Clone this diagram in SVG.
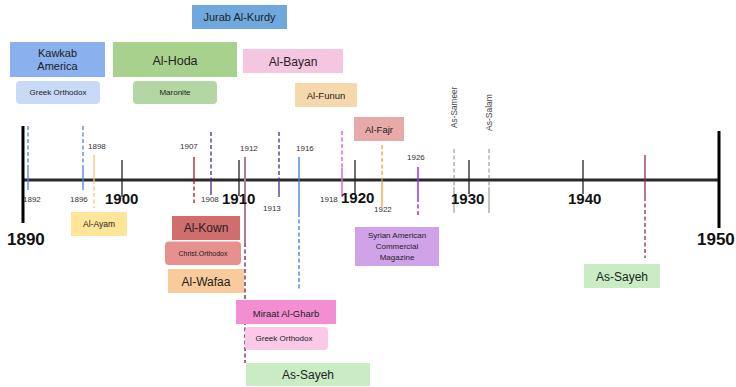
<svg xmlns="http://www.w3.org/2000/svg" width="736" height="387" viewBox="0 0 736 387">
<style>
text{font-family:"Liberation Sans",Arial,sans-serif;fill:#222;}
.c{text-anchor:middle;}
.yr{font-size:8px;fill:#333;}
.dec{font-size:15px;font-weight:bold;fill:#111;}
.end{font-size:17px;font-weight:bold;fill:#111;}
.tick{stroke:#222;stroke-width:1.3;}
.d{stroke-dasharray:4,2.5;}
</style>
<rect width="736" height="387" fill="#fff"/>
<g id="connectors" fill="none">
  <!-- axis -->
  <line x1="23" y1="180" x2="719" y2="180" stroke="#2a2a2a" stroke-width="3"/>
  <line x1="23" y1="126" x2="23" y2="223" stroke="#000" stroke-width="3"/>
  <line x1="719" y1="131" x2="719" y2="228" stroke="#000" stroke-width="3"/>
  <line class="tick" x1="122" y1="160" x2="122" y2="197"/>
  <line class="tick" x1="239" y1="160" x2="239" y2="196"/>
  <line class="tick" x1="355" y1="160" x2="355" y2="195"/>
  <line class="tick" x1="469" y1="160" x2="469" y2="194"/>
  <line class="tick" x1="583" y1="160" x2="583" y2="194"/>
  <!-- 1892 -->
  <line class="d" x1="28" y1="126" x2="28" y2="168" stroke="#4a86e8" stroke-width="1.3"/>
  <line x1="28" y1="168" x2="28" y2="190" stroke="#4a86e8" stroke-width="1.3"/>
  <!-- 1896 -->
  <line class="d" x1="83" y1="126" x2="83" y2="168" stroke="#4a86e8" stroke-width="1.3"/>
  <line x1="83" y1="168" x2="83" y2="190" stroke="#4a86e8" stroke-width="1.3"/>
  <!-- 1898 -->
  <line x1="94" y1="155" x2="94" y2="180" stroke="#f6c86b" stroke-width="1.3"/>
  <line class="d" x1="94" y1="180" x2="94" y2="208" stroke="#f6c86b" stroke-width="1.3"/>
  <!-- 1907 -->
  <line x1="194" y1="157" x2="194" y2="180" stroke="#a61c1c" stroke-width="1.3"/>
  <line class="d" x1="194" y1="180" x2="194" y2="203" stroke="#a61c1c" stroke-width="1.3"/>
  <!-- 1908 -->
  <line class="d" x1="211" y1="132" x2="211" y2="180" stroke="#4b2c8c" stroke-width="1.3"/>
  <line x1="211" y1="180" x2="211" y2="195" stroke="#4b2c8c" stroke-width="1.3"/>
  <!-- 1912 -->
  <line x1="245" y1="157" x2="245" y2="243" stroke="#b07b9a" stroke-width="2"/>
  <line class="d" x1="245" y1="243" x2="245" y2="363" stroke="#741b47" stroke-width="1.3"/>
  <!-- 1913 -->
  <line class="d" x1="279" y1="132" x2="279" y2="180" stroke="#4b2c8c" stroke-width="1.3"/>
  <line x1="279" y1="180" x2="279" y2="197" stroke="#4b2c8c" stroke-width="1.3"/>
  <!-- 1916 -->
  <line x1="299" y1="157" x2="299" y2="213" stroke="#3c78d8" stroke-width="1.3"/>
  <line class="d" x1="299" y1="213" x2="299" y2="290" stroke="#3c78d8" stroke-width="1.3"/>
  <!-- 1918 -->
  <line class="d" x1="342" y1="131" x2="342" y2="168" stroke="#e066e0" stroke-width="1.5"/>
  <line x1="342" y1="168" x2="342" y2="197" stroke="#e066e0" stroke-width="1.5"/>
  <!-- 1922 -->
  <line class="d" x1="382" y1="145" x2="382" y2="182" stroke="#f4a030" stroke-width="1.3"/>
  <line x1="382" y1="182" x2="382" y2="207" stroke="#f4a030" stroke-width="1.3"/>
  <!-- 1926 -->
  <line x1="418" y1="167" x2="418" y2="198" stroke="#9b30ee" stroke-width="1.5"/>
  <line class="d" x1="418" y1="198" x2="418" y2="216" stroke="#9b30ee" stroke-width="1.5"/>
  <!-- As-Sameer / As-Salam -->
  <line class="d" x1="454" y1="149" x2="454" y2="187" stroke="#888" stroke-width="1"/>
  <line x1="454" y1="187" x2="454" y2="213" stroke="#888" stroke-width="1"/>
  <line class="d" x1="489" y1="149" x2="489" y2="187" stroke="#888" stroke-width="1"/>
  <line x1="489" y1="187" x2="489" y2="213" stroke="#888" stroke-width="1"/>
  <!-- As-Sayeh later -->
  <line x1="645" y1="155" x2="645" y2="197" stroke="#8a2c5c" stroke-width="1.3"/>
  <line class="d" x1="645" y1="197" x2="645" y2="258" stroke="#8a2c5c" stroke-width="1.3"/>
</g>
<g id="axis-labels">
  <text class="end" x="7" y="245">1890</text>
  <text class="end" x="697" y="245">1950</text>
  <text class="dec" x="105" y="204">1900</text>
  <text class="dec" x="222" y="204">1910</text>
  <text class="dec" x="341" y="203">1920</text>
  <text class="dec" x="451" y="204">1930</text>
  <text class="dec" x="568" y="204">1940</text>
  <text class="yr" x="23" y="202">1892</text>
  <text class="yr" x="70" y="202">1896</text>
  <text class="yr" x="88" y="149">1898</text>
  <text class="yr" x="180" y="149">1907</text>
  <text class="yr" x="201" y="202">1908</text>
  <text class="yr" x="240" y="151">1912</text>
  <text class="yr" x="263" y="211">1913</text>
  <text class="yr" x="296" y="151">1916</text>
  <text class="yr" x="320" y="202">1918</text>
  <text class="yr" x="374" y="212">1922</text>
  <text class="yr" x="407" y="160">1926</text>
  <text style="font-size:8.3px;fill:#444" transform="translate(457,128) rotate(-90)">As-Sameer</text>
  <text style="font-size:8.5px;fill:#444" transform="translate(492,131) rotate(-90)">As-Salam</text>
</g>
<g id="jurab"><rect x="192" y="5" width="95" height="24" fill="#6fa8dc"/><text class="c" x="239.5" y="21" font-size="11">Jurab Al-Kurdy</text></g>
<g id="kawkab"><rect x="10" y="42" width="95" height="35" fill="#8ab0ee"/><text class="c" x="57.5" y="57" font-size="11">Kawkab</text><text class="c" x="57.5" y="70" font-size="11">America</text></g>
<g id="kawkab-rel"><rect x="16" y="81" width="84" height="23" rx="4" fill="#c9daf8"/><text class="c" x="58" y="95" font-size="8">Greek Orthodox</text></g>
<g id="hoda"><rect x="113" y="42" width="124" height="35" fill="#a9d18e"/><text class="c" x="175" y="65" font-size="12.5">Al-Hoda</text></g>
<g id="hoda-rel"><rect x="133" y="81" width="84" height="23" rx="4" fill="#b3d7a3"/><text class="c" x="175" y="95" font-size="8">Maronite</text></g>
<g id="bayan"><rect x="243" y="49" width="100" height="24" fill="#f5c6df"/><text class="c" x="293" y="66" font-size="12">Al-Bayan</text></g>
<g id="funun"><rect x="295" y="83" width="62" height="24" fill="#f6d8ad"/><text class="c" x="326" y="99" font-size="9.5">Al-Funun</text></g>
<g id="fajr"><rect x="354" y="117" width="50" height="24" fill="#e8a9a9"/><text class="c" x="379" y="133" font-size="9.5">Al-Fajr</text></g>
<g id="ayam"><rect x="71" y="212" width="56" height="24" fill="#ffe599"/><text class="c" x="99" y="227" font-size="8.5">Al-Ayam</text></g>
<g id="kown"><rect x="172" y="216" width="68" height="24" fill="#d06d6d"/><text class="c" x="206" y="232" font-size="12">Al-Kown</text></g>
<g id="kown-rel"><rect x="165" y="241.5" width="76" height="23.5" rx="4" fill="#e79090"/><text class="c" x="203" y="255.5" font-size="7">Christ.Orthodox</text></g>
<g id="wafaa"><rect x="168" y="269" width="76" height="24" fill="#f9cb9c"/><text class="c" x="206" y="286" font-size="12">Al-Wafaa</text></g>
<g id="miraat"><rect x="236" y="300" width="100" height="24" fill="#f48ed2"/><text class="c" x="286" y="317" font-size="9.5">Miraat Al-Gharb</text></g>
<g id="miraat-rel"><rect x="245" y="327" width="83" height="23" rx="4" fill="#fbc8e8"/><text class="c" x="284" y="341" font-size="8">Greek Orthodox</text></g>
<g id="sayeh1"><rect x="246" y="363" width="124" height="23" fill="#c9ecc5"/><text class="c" x="308" y="379" font-size="12">As-Sayeh</text></g>
<g id="syrian"><rect x="355" y="227" width="84" height="39" fill="#d0a3e8"/><text class="c" x="397" y="238" font-size="8">Syrian American</text><text class="c" x="397" y="249" font-size="8">Commercial</text><text class="c" x="397" y="260" font-size="8">Magazine</text></g>
<g id="sayeh2"><rect x="584" y="264" width="76" height="24" fill="#c9ecc5"/><text class="c" x="622" y="281" font-size="12">As-Sayeh</text></g>
</svg>
